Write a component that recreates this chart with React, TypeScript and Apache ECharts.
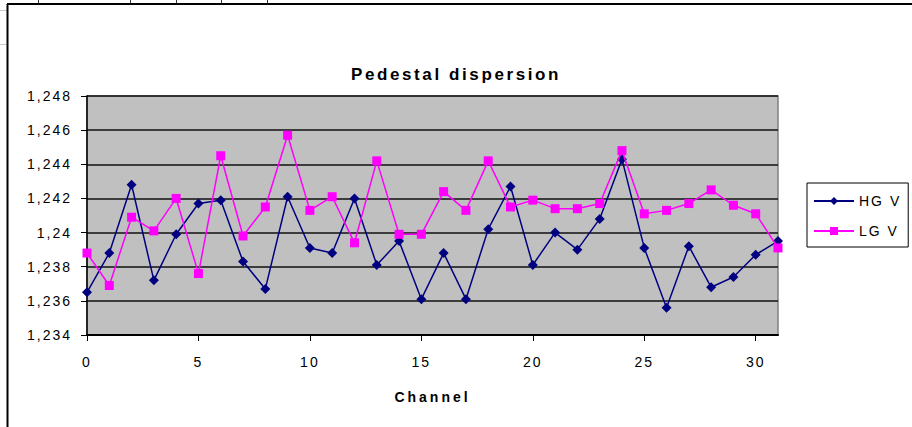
import React, { useEffect, useRef } from "react";
import * as echarts from "echarts";

// Pedestal dispersion per channel, high-gain and low-gain readouts
const channels = [0, 1, 2, 3, 4, 5, 6, 7, 8, 9, 10, 11, 12, 13, 14, 15, 16, 17, 18, 19, 20, 21, 22, 23, 24, 25, 26, 27, 28, 29, 30, 31];
const hgValues = [
  1.2365, 1.2388, 1.2428, 1.2372, 1.2399, 1.2417, 1.2419, 1.2383, 1.2367, 1.2421, 1.2391,
  1.2388, 1.2420, 1.2381, 1.2395, 1.2361, 1.2388, 1.2361, 1.2402, 1.2427, 1.2381,
  1.2400, 1.2390, 1.2408, 1.2443, 1.2391, 1.2356, 1.2392, 1.2368, 1.2374, 1.2387, 1.2395,
];
const lgValues = [
  1.2388, 1.2369, 1.2409, 1.2401, 1.2420, 1.2376, 1.2445, 1.2398, 1.2415, 1.2457, 1.2413,
  1.2421, 1.2394, 1.2442, 1.2399, 1.2399, 1.2424, 1.2413, 1.2442, 1.2415, 1.2419,
  1.2414, 1.2414, 1.2417, 1.2448, 1.2411, 1.2413, 1.2417, 1.2425, 1.2416, 1.2411, 1.2391,
];
const seriesNames = ["HG V", "LG V"];
const titleText = "Pedestal dispersion";
const xAxisName = "Channel";

const FONT = "'Liberation Sans', Arial, sans-serif";

export default function App() {
  const ref = useRef<HTMLDivElement>(null);

  useEffect(() => {
    if (!ref.current) return;
    const chart = echarts.init(ref.current, null, { renderer: "svg" });

    const toPairs = (vals: number[]) => channels.map((c, i) => [c, vals[i]]);
    const frameLine = (x1: number, y1: number, x2: number, y2: number, w: number, color: string) => ({
      type: "line",
      shape: { x1, y1, x2, y2 },
      style: { stroke: color, lineWidth: w },
      silent: true,
    });

    chart.setOption({
      animation: false,
      backgroundColor: "#ffffff",
      textStyle: { fontFamily: FONT },
      title: {
        text: titleText,
        left: "center",
        top: 61,
        textStyle: { fontFamily: FONT, fontSize: 17, fontWeight: "bold", color: "#000" },
      },
      legend: {
        orient: "vertical",
        left: 807,
        top: 183,
        padding: [11, 15, 9, 6],
        itemGap: 16,
        itemWidth: 40,
        itemHeight: 10,
        borderColor: "#000",
        borderWidth: 1,
        backgroundColor: "#fff",
        textStyle: { fontFamily: FONT, fontSize: 14, color: "#000" },
        data: seriesNames,
      },
      grid: {
        left: 87,
        top: 96,
        right: 134,
        bottom: 92,
        show: true,
        backgroundColor: "#C0C0C0",
        borderColor: "#808080",
        borderWidth: 1.5,
      },
      xAxis: {
        type: "value",
        min: 0,
        max: 31,
        interval: 5,
        name: xAxisName,
        nameLocation: "middle",
        nameGap: 55,
        nameTextStyle: { fontFamily: FONT, fontSize: 14, fontWeight: "bold", color: "#000" },
        axisLine: { show: true, onZero: false, lineStyle: { color: "#000", width: 2 } },
        axisTick: { show: true, inside: false, length: 6, lineStyle: { color: "#000", width: 1 } },
        axisLabel: {
          margin: 20,
          fontFamily: FONT,
          fontSize: 14,
          color: "#000",
          showMaxLabel: false,
        },
        splitLine: { show: false },
      },
      yAxis: {
        type: "value",
        min: 1.234,
        max: 1.248,
        interval: 0.002,
        axisLine: { show: true, lineStyle: { color: "#000", width: 1.5 } },
        axisTick: { show: true, inside: false, length: 6, lineStyle: { color: "#000", width: 1 } },
        axisLabel: {
          margin: 15,
          fontFamily: FONT,
          fontSize: 14,
          color: "#000",
          formatter: (v: number) => String(+v.toFixed(3)).replace(".", ","),
        },
        splitLine: { show: true, lineStyle: { color: "#111", width: 1.5 } },
      },
      series: [
        {
          name: seriesNames[0],
          type: "line",
          data: toPairs(hgValues),
          symbol: "diamond",
          symbolSize: 10,
          showAllSymbol: true,
          lineStyle: { color: "#000080", width: 1.5 },
          itemStyle: { color: "#000080" },
          z: 2,
        },
        {
          name: seriesNames[1],
          type: "line",
          data: toPairs(lgValues),
          symbol: "rect",
          symbolSize: 9,
          showAllSymbol: true,
          lineStyle: { color: "#FF00FF", width: 1.5 },
          itemStyle: { color: "#FF00FF" },
          z: 3,
        },
      ],
      graphic: [
        // spreadsheet cells peeking out around the chart object
        frameLine(0, 10.5, 7, 10.5, 1, "#c8c8c8"),
        frameLine(0, 44.5, 7, 44.5, 1, "#c8c8c8"),
        frameLine(38.5, 0, 38.5, 4, 1, "#333"),
        frameLine(130.5, 0, 130.5, 4, 1, "#333"),
        frameLine(176.5, 0, 176.5, 4, 1, "#333"),
        frameLine(221.5, 0, 221.5, 4, 1, "#333"),
        frameLine(267.5, 0, 267.5, 4, 1, "#333"),
        // chart object frame
        frameLine(7.5, 4, 7.5, 427, 2, "#000"),
        frameLine(7, 4, 912, 4, 2, "#000"),
      ],
    });

    // widen glyph spacing on the chart's texts
    const texts = ref.current.querySelectorAll("text");
    texts.forEach((t) => {
      const s = t.textContent || "";
      let sp = "2px";
      if (s === titleText) sp = "2.6px";
      else if (s === xAxisName) sp = "3px";
      (t as SVGTextElement).style.letterSpacing = sp;
    });

    return () => chart.dispose();
  }, []);

  return (
    <div
      ref={ref}
      style={{ position: "absolute", left: 0, top: 0, width: 912, height: 427, background: "#fff" }}
    />
  );
}
